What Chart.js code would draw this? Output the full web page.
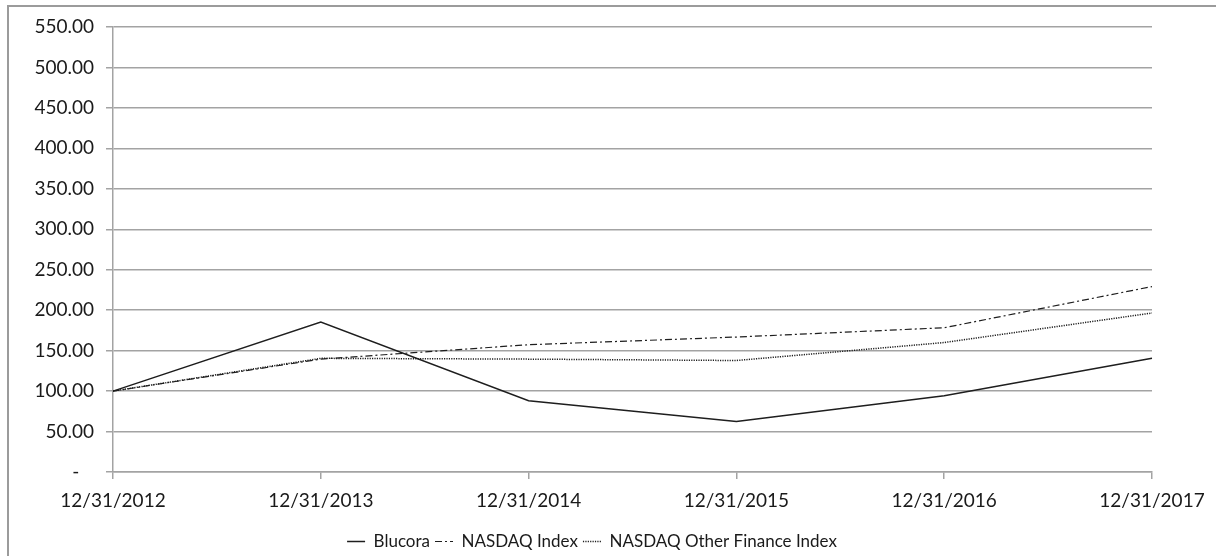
<!DOCTYPE html>
<html>
<head>
<meta charset="utf-8">
<script src="https://cdn.jsdelivr.net/npm/chart.js@4.4.1/dist/chart.umd.min.js"></script>
<style>
  html, body { margin: 0; padding: 0; background: #ffffff; }
  #wrap { position: relative; width: 1216px; height: 556px; overflow: hidden; }
  #frame { position: absolute; left: 7px; top: 5px; right: -10px; bottom: -10px; border-left: 2px solid #9b9b9b; border-top: 2px solid #9b9b9b; pointer-events: none; }
  canvas { position: absolute; left: 0; top: 0; }
</style>
</head>
<body>
<div id="wrap">
  <canvas id="c" width="1216" height="556"></canvas>
  <div id="frame"></div>
</div>
<script>
const categories = ['12/31/2012', '12/31/2013', '12/31/2014', '12/31/2015', '12/31/2016', '12/31/2017'];
const blucora = [100, 185.4, 88.1, 62.5, 94.3, 140.7];
const nasdaqIndex = [100, 139.5, 157.3, 166.8, 178.3, 229.2];
const nasdaqOtherFinance = [100, 140.5, 139.5, 137.8, 160.0, 196.5];
const seriesNames = ['Blucora', 'NASDAQ Index', 'NASDAQ Other Finance Index'];
const yMin = 0, yMax = 550, yStep = 50;

const FONT = 'Lato, "Open Sans", sans-serif';
const TEXT = '#1a1a1a';
const GRID = '#a3a3a3';
const LINE = '#1e1e1e';

new Chart(document.getElementById('c'), {
  type: 'line',
  data: {
    labels: categories,
    datasets: [
      { label: seriesNames[0], data: blucora, borderColor: LINE, backgroundColor: LINE, borderWidth: 1.5, borderDash: [], pointRadius: 0, tension: 0 },
      { label: seriesNames[1], data: nasdaqIndex, borderColor: LINE, backgroundColor: LINE, borderWidth: 1.2, borderDash: [7, 3, 2, 3], pointRadius: 0, tension: 0 },
      { label: seriesNames[2], data: nasdaqOtherFinance, borderColor: LINE, backgroundColor: LINE, borderWidth: 1.5, borderDash: [1.2, 1.2], pointRadius: 0, tension: 0 }
    ]
  },
  options: {
    responsive: false,
    animation: false,
    layout: { padding: { top: 27, right: 64, bottom: -4, left: 32 } },
    plugins: {
      tooltip: { enabled: false },
      legend: {
        position: 'bottom',
        labels: {
          usePointStyle: true,
          pointStyle: 'line',
          pointStyleWidth: 18,
          boxHeight: 18,
          padding: 5,
          color: TEXT,
          font: { family: FONT, size: 17 },
          generateLabels: (chart) => {
            const items = Chart.defaults.plugins.legend.labels.generateLabels(chart);
            items.forEach((it) => {
              const ds = chart.data.datasets[it.datasetIndex];
              it.lineDash = ds.borderDash;
              it.lineWidth = ds.borderWidth;
              it.strokeStyle = ds.borderColor;
              it.pointStyle = 'line';
            });
            return items;
          }
        }
      }
    },
    scales: {
      x: {
        offset: false,
        grid: { display: true, drawOnChartArea: false, drawTicks: true, tickLength: 7, color: GRID, lineWidth: 1.5 },
        border: { display: true, color: GRID, width: 1.5 },
        ticks: { color: TEXT, font: { family: FONT, size: 19 }, padding: 10, maxRotation: 0, autoSkip: false },
        afterFit: (axis) => { axis.height = 56; }
      },
      y: {
        min: yMin, max: yMax,
        grid: { color: GRID, lineWidth: 1.5, tickLength: 7 },
        border: { display: true, color: GRID, width: 1.5 },
        ticks: {
          stepSize: yStep,
          color: TEXT,
          font: { family: FONT, size: 19 },
          padding: 12,
          callback: (v) => v === 0 ? '-   ' : Number(v).toFixed(2)
        },
        afterFit: (axis) => { axis.width = 81; }
      }
    }
  }
});
</script>
</body>
</html>
